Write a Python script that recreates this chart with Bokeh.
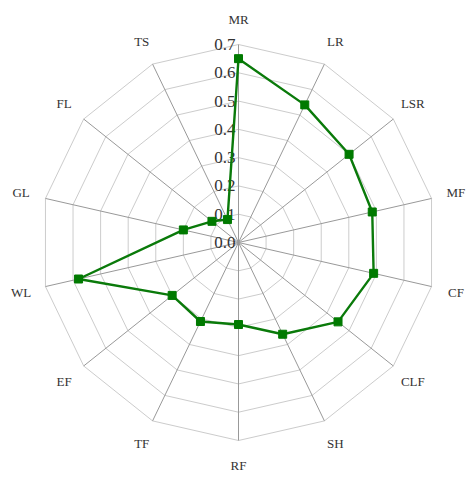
import numpy as np
from bokeh.plotting import figure
from bokeh.models import ColumnDataSource
from bokeh.core.properties import value
from bokeh.embed import file_html
from bokeh.resources import INLINE

categories = ["MR", "LR", "LSR", "MF", "CF", "CLF", "SH", "RF", "TF", "EF", "WL", "GL", "FL", "TS"]
values = [0.65, 0.54, 0.50, 0.485, 0.49, 0.45, 0.36, 0.29, 0.31, 0.30, 0.58, 0.20, 0.12, 0.09]
ring_levels = [0.1, 0.2, 0.3, 0.4, 0.5, 0.6, 0.7]
tick_labels = ["0.0", "0.1", "0.2", "0.3", "0.4", "0.5", "0.6", "0.7"]
rmax = 0.7

W, H = 466, 472
px = 198 / rmax  # pixels per unit
cx, cy = 238, 242  # center in plot pixels (from left, from top)

p = figure(width=W, height=H, output_backend="svg", toolbar_location=None,
           x_range=(-cx / px, (W - cx) / px), y_range=(-(H - cy) / px, cy / px),
           min_border=0, background_fill_color="white", border_fill_color="white")
p.axis.visible = False
p.grid.visible = False
p.outline_line_color = None

n = len(categories)
ang = np.pi / 2 - np.arange(n) * 2 * np.pi / n

# rings
for r in ring_levels:
    xs = list(r * np.cos(ang)) + [r * np.cos(ang[0])]
    ys = list(r * np.sin(ang)) + [r * np.sin(ang[0])]
    p.line(xs, ys, line_color="#cccccc", line_width=1)

# spokes
for a in ang:
    p.line([0, rmax * np.cos(a)], [0, rmax * np.sin(a)], line_color="#999999", line_width=1)

# category labels
lr = rmax + 25 / px
lab = ColumnDataSource(dict(x=lr * np.cos(ang), y=lr * np.sin(ang), t=categories))
p.text(x="x", y="y", text="t", source=lab, text_align="center", text_baseline="middle",
       text_font=value("Liberation Serif"), text_font_size="13px", text_color="#333333")

# tick labels along the MR axis
tk = ColumnDataSource(dict(x=[-3 / px] * len(tick_labels),
                           y=[i * 0.1 for i in range(len(tick_labels))], t=tick_labels))
p.text(x="x", y="y", text="t", source=tk, text_align="right", text_baseline="middle",
       text_font=value("Liberation Serif"), text_font_size="17px", text_color="#333333")

# data
vals = np.array(values)
dx = vals * np.cos(ang)
dy = vals * np.sin(ang)
p.line(list(dx) + [dx[0]], list(dy) + [dy[0]], line_color="#0a7a0a", line_width=2.4)
p.scatter(dx, dy, marker="square", size=8, fill_color="#007a00", line_color="#007a00")

open("out.html", "w").write(file_html(p, INLINE))
